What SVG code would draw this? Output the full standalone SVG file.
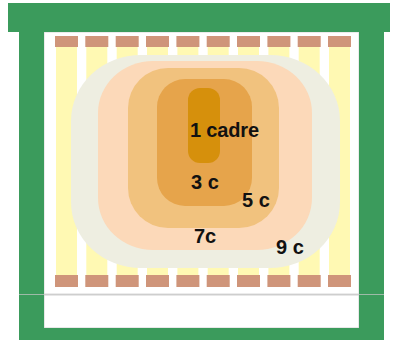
<svg xmlns="http://www.w3.org/2000/svg" width="393" height="340" viewBox="0 0 393 340">
<style>
.green{fill:#3b9b5c}
.cap{fill:#cf957a}
.body{fill:#fff9b3}
.lbl{font-family:"Liberation Sans",Arial,sans-serif;font-weight:bold;font-size:20px;fill:#111}
</style>
<defs>
<g id="frame">
<rect x="0" y="36" width="23" height="11" class="cap"/>
<rect x="1" y="47" width="21" height="228" class="body"/>
<rect x="0" y="275" width="23" height="12" class="cap"/>
</g>
</defs>
<rect width="393" height="340" fill="#fff"/>
<g id="hive">
<rect x="44" y="32" width="315" height="262" fill="#fff" stroke="#d8d8d8" stroke-width="1"/>
<rect x="44" y="295" width="315" height="33" fill="#fff" stroke="#d0d0d0" stroke-width="1"/>
<rect x="8" y="3" width="382" height="29" class="green"/>
<rect x="19" y="32" width="25" height="308" class="green"/>
<rect x="359" y="32" width="25" height="308" class="green"/>
<rect x="19" y="328" width="365" height="12" class="green"/>
<line x1="19" y1="294.5" x2="384" y2="294.5" stroke="#c8c8c8" stroke-width="1" opacity="0.7"/>
</g>
<g id="frames">
<use href="#frame" x="55"/>
<use href="#frame" x="85.3"/>
<use href="#frame" x="115.7"/>
<use href="#frame" x="146"/>
<use href="#frame" x="176.4"/>
<use href="#frame" x="206.7"/>
<use href="#frame" x="237"/>
<use href="#frame" x="267.4"/>
<use href="#frame" x="297.7"/>
<use href="#frame" x="328"/>
</g>
<g id="zones">
<rect id="zone9" x="71" y="55" width="269" height="213" rx="70" ry="66" fill="#eeeee1"/>
<rect id="zone7" x="98" y="61" width="214" height="189" rx="55" ry="52" fill="#fcd9b9"/>
<rect id="zone5" x="128" y="68" width="151" height="160" rx="40" ry="40" fill="#f1c27e"/>
<rect id="zone3" x="157" y="79" width="95" height="127" rx="28" ry="28" fill="#e6a44b"/>
<rect id="zone1" x="188" y="88" width="32" height="75" rx="12" ry="12" fill="#d6900c"/>
</g>
<g id="labels">
<text class="lbl" x="190" y="137" textLength="69">1 cadre</text>
<text class="lbl" x="191" y="189">3 c</text>
<text class="lbl" x="242" y="207">5 c</text>
<text class="lbl" x="194" y="243">7c</text>
<text class="lbl" x="276" y="254">9 c</text>
</g>
</svg>
